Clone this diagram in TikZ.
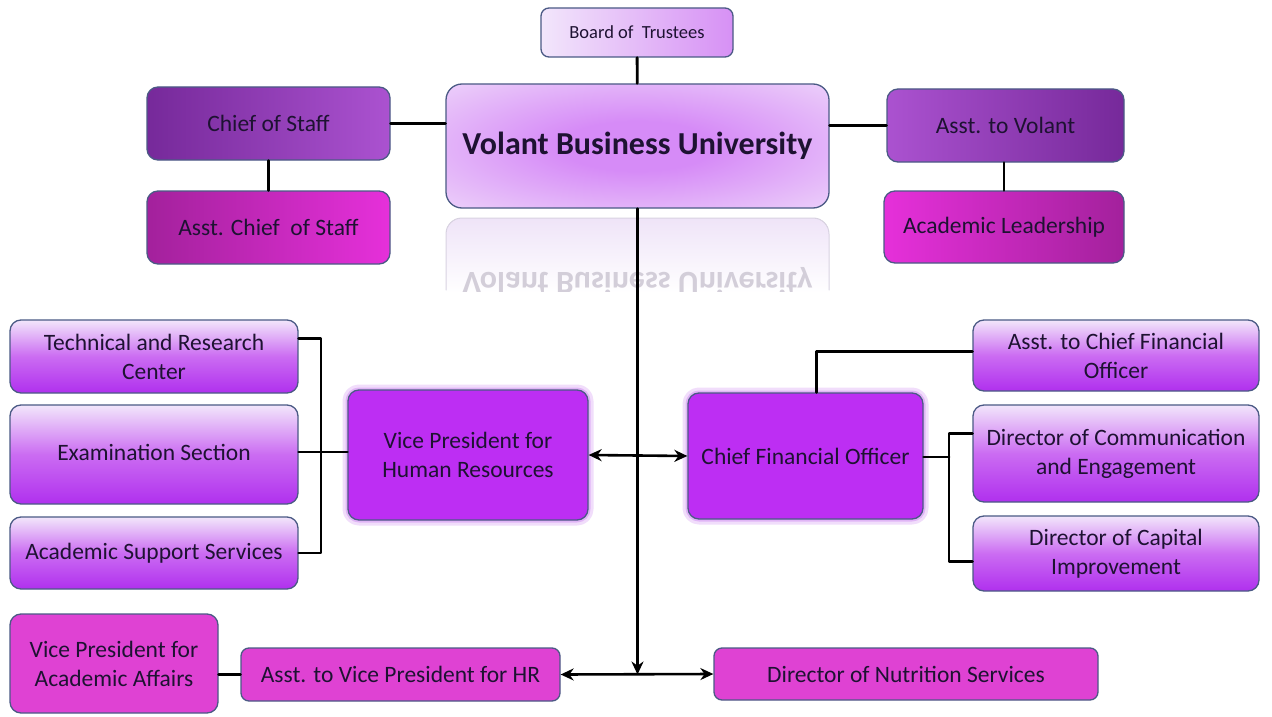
\documentclass[tikz,border=0pt]{standalone}
\usepackage{fontspec}
\setmainfont{Carlito}
\usepackage{tikz}
\usetikzlibrary{arrows.meta}

\definecolor{edgecol}{HTML}{4B5A85}
\definecolor{inkcol}{HTML}{1E1232}
\definecolor{cosdark}{HTML}{76299A}
\definecolor{coslight}{HTML}{AB52D0}
\definecolor{magbright}{HTML}{E630DA}
\definecolor{magdark}{HTML}{A3219C}
\definecolor{vpfill}{HTML}{BD2EF3}
\definecolor{glowcol}{HTML}{C87AF0}
\definecolor{lavtop}{HTML}{F2E6FB}
\definecolor{lavmid}{HTML}{CB6CF2}
\definecolor{lavbot}{HTML}{B030EE}
\definecolor{botmag}{HTML}{DF42D3}
\definecolor{heartcol}{HTML}{D68BF7}
\definecolor{rimcol}{HTML}{F3E6FB}
\definecolor{refltop}{HTML}{EFE4F8}
\definecolor{refledge}{HTML}{D9D3E2}
\definecolor{refltext}{HTML}{D3CED9}

\pgfdeclareradialshading{heartglow}{\pgfpoint{0bp}{0bp}}{%
  color(0bp)=(heartcol); color(10bp)=(heartcol);
  color(44bp)=(rimcol); color(50bp)=(rimcol)}

\begin{document}
\begin{tikzpicture}[x=1pt,y=-1pt,>=Stealth,line cap=round,line join=round,
    orgbox/.style={draw=edgecol,line width=1.3pt,rounded corners=11pt,
      text=inkcol,align=center,inner sep=0pt,
      font=\fontsize{23.5}{29}\selectfont},
    topbox/.style={orgbox,left color=cosdark,right color=coslight},
    topboxr/.style={orgbox,left color=coslight,right color=cosdark},
    magbox/.style={orgbox,left color=magdark,right color=magbright},
    magboxr/.style={orgbox,left color=magbright,right color=magdark},
    colbox/.style={orgbox,top color=lavtop,bottom color=lavbot,
      middle color=lavmid},
    vpbox/.style={orgbox,fill=vpfill,
      preaction={draw=glowcol,line width=11pt,opacity=.25},
      preaction={draw=glowcol,line width=5pt,opacity=.4}},
    lowbox/.style={orgbox,fill=botmag},
    link/.style={line width=2.8pt},
    flow/.style={line width=2.6pt,arrows={-Stealth[length=13pt,width=12pt]}},
    flows/.style={line width=2.6pt,
      arrows={Stealth[length=13pt,width=12pt]-Stealth[length=13pt,width=12pt]}}]
    \path[fill=white,use as bounding box] (0,0) rectangle (1272,717);

    % Top of the chart.
    \node[orgbox,left color=lavtop,right color=lavmid!70!lavtop,
      rounded corners=8pt,minimum width=192,minimum height=49,
      font=\fontsize{18.5}{22}\selectfont] (board) at (637,32.5)
      {Board of\ \ Trustees};
    \node[orgbox,shading=heartglow,rounded corners=16pt,
      minimum width=383,minimum height=124,
      font=\fontsize{32}{38}\selectfont\bfseries] (volant) at (637.5,146)
      {Volant Business University};

    % Faded mirror under the title box.
    \begin{scope}
      \clip[rounded corners=16pt] (446,218) rectangle (829,342);
      \fill[top color=refltop,bottom color=white] (446,218) rectangle (829,293);
    \end{scope}
    \draw[refledge,line width=1pt,rounded corners=16pt]
      (446,290) -- (446,218) -- (829,218) -- (829,290);
    \begin{scope}
      \clip (440,214) rectangle (835,291);
      \node[text=refltext,yscale=-1,transform shape,
        font=\fontsize{32}{38}\selectfont\bfseries] (mirror) at (637.5,281)
        {Volant Business University};
    \end{scope}

    \node[topbox,minimum width=243,minimum height=73] (cos) at (268.5,123.5)
      {Chief of Staff};
    \node[magbox,minimum width=243,minimum height=73] (acos) at (268.5,227.5)
      {Asst. Chief\ \ of Staff};
    \node[topboxr,minimum width=237,minimum height=73] (atv) at (1005.5,125.5)
      {Asst. to Volant};
    \node[magboxr,minimum width=240,minimum height=72] (lead) at (1004,227)
      {Academic Leadership};

    \draw[link] (board) -- (volant);
    \draw[link] (cos.east) -- (cos.east -| volant.west);
    \draw[link] (atv.west -| volant.east) -- (atv.west);
    \draw[link] (cos) -- (acos);
    \draw[link] (atv.south -| lead.north) -- (lead.north);

    % Middle row.
    \node[vpbox,minimum width=240,minimum height=130] (vphr) at (468,455)
      {Vice President for\\Human Resources};
    \node[vpbox,minimum width=235,minimum height=126] (cfo) at (805.5,456)
      {Chief Financial Officer};

    \node[colbox,minimum width=288,minimum height=73] (tech) at (154,356.5)
      {Technical and Research\\Center};
    \node[colbox,minimum width=288,minimum height=99] (exam) at (154,454.5)
      {\raisebox{5pt}{Examination Section}};
    \node[colbox,minimum width=288,minimum height=72] (support) at (154,553)
      {Academic Support Services};

    \node[colbox,minimum width=286,minimum height=71] (acfo) at (1116,355.5)
      {Asst. to Chief Financial\\Officer};
    \node[colbox,minimum width=286,minimum height=97] (comm) at (1116,453.5)
      {Director of Communication\\and Engagement};
    \node[colbox,minimum width=286,minimum height=75] (capital) at (1116,553.5)
      {Director of Capital\\Improvement};

    \coordinate (ljoin) at (321,452);
    \coordinate (rjoin) at (949,457);
    \draw[link] ([yshift=18pt]tech.east) -| (ljoin) |- (support.east);
    \draw[link] (exam.east |- ljoin) -- (ljoin) -- (ljoin -| vphr.west);
    \draw[link] ([xshift=11pt]cfo.north) |- ([yshift=4pt]acfo.west);
    \draw[link] (cfo.east |- rjoin) -- (rjoin);
    \draw[link] ([yshift=20pt]comm.west) -| (rjoin) |- ([yshift=-8pt]capital.west);

    % Bottom row.
    \node[lowbox,minimum width=208,minimum height=99] (vpaa) at (114,663.5)
      {Vice President for\\Academic Affairs};
    \node[lowbox,rounded corners=8pt,minimum width=319,minimum height=53]
      (asstvp) at (400.5,674.5) {Asst. to Vice President for HR};
    \node[lowbox,rounded corners=8pt,minimum width=384,minimum height=52]
      (nutrition) at (906,674) {Director of Nutrition Services};

    \draw[link] (vpaa.east |- asstvp) -- (asstvp.west);
    \draw[flows] (asstvp.east) -- (nutrition.west);
    \draw[flows] (vphr.east) -- (cfo.west);
    \draw[flow] (volant.south) -- (volant.south |- asstvp.east);
  \end{tikzpicture}
\end{document}
